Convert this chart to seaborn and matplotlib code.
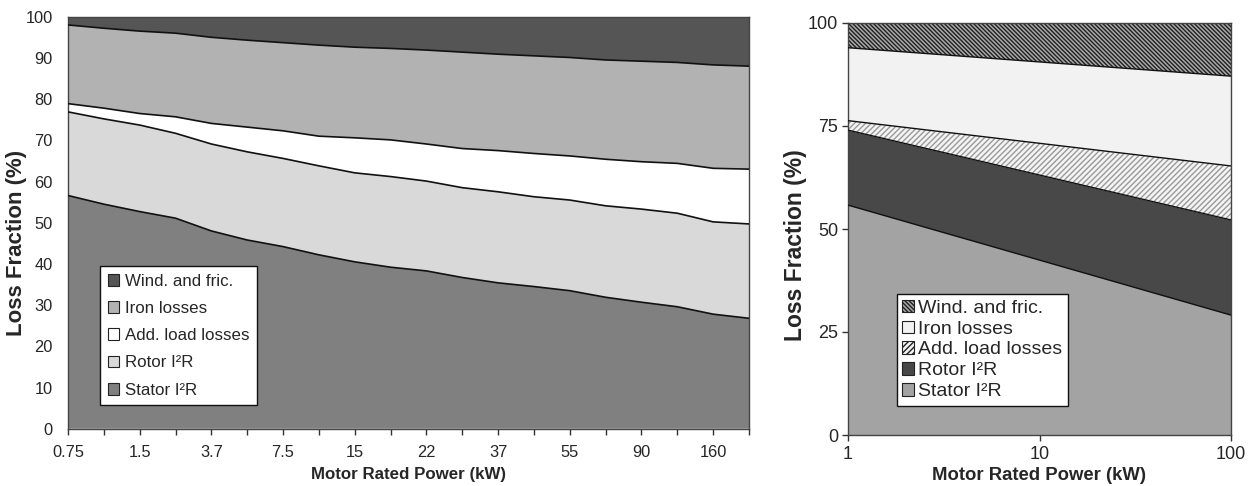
import numpy as np
import pandas as pd
import matplotlib
matplotlib.use("Agg")
import matplotlib.pyplot as plt
import seaborn as sns
from matplotlib.patches import Patch

# ---------------- data ----------------
power_left = ["0.75", "1.1", "1.5", "2.2", "3.7", "5.5", "7.5", "11", "15", "18.5",
              "22", "30", "37", "45", "55", "75", "90", "110", "160", "200"]
stator_left = [56.6, 54.5, 52.7, 51.1, 48.0, 45.8, 44.2, 42.2, 40.5, 39.2,
               38.3, 36.7, 35.4, 34.5, 33.5, 31.9, 30.7, 29.6, 27.8, 26.8]
rotor_left = [20.3, 20.7, 21.0, 20.6, 21.1, 21.4, 21.4, 21.6, 21.6, 22.0,
              21.8, 21.8, 22.1, 21.8, 22.0, 22.2, 22.6, 22.7, 22.4, 22.9]
addload_left = [2.0, 2.6, 2.8, 4.0, 5.0, 6.0, 6.7, 7.2, 8.5, 8.9,
                9.0, 9.5, 10.0, 10.5, 10.7, 11.3, 11.5, 12.1, 13.0, 13.3]
iron_left = [19.1, 19.4, 20.0, 20.3, 20.9, 21.1, 21.4, 22.1, 22.0, 22.2,
             22.8, 23.4, 23.4, 23.7, 23.9, 24.1, 24.4, 24.5, 25.1, 25.0]
wind_left = [2.0, 2.8, 3.5, 4.0, 5.0, 5.7, 6.3, 6.9, 7.4, 7.7,
             8.1, 8.6, 9.1, 9.5, 9.9, 10.5, 10.8, 11.1, 11.7, 12.0]

power_right = [1, 100]
stator_right = [55.8, 29.1]
rotor_right = [18.2, 23.1]
addload_right = [2.3, 13.1]
iron_right = [17.7, 21.8]
wind_right = [6.0, 12.9]

names = ["Stator I²R", "Rotor I²R", "Add. load losses", "Iron losses", "Wind. and fric."]
xlabel = "Motor Rated Power (kW)"
ylabel = "Loss Fraction (%)"

# ---------------- style ----------------
sns.set_theme(style="white")
plt.rcParams["font.family"] = ["Liberation Sans", "DejaVu Sans"]
plt.rcParams["hatch.linewidth"] = 1.0

fig = plt.figure(figsize=(12.55, 4.86), dpi=100)
W, H = 1255, 486
axL = fig.add_axes([68 / W, 1 - 428.7 / H, (749 - 68) / W, (428.7 - 16.7) / H])
axR = fig.add_axes([848 / W, 1 - 435 / H, (1231 - 848) / W, (435 - 23) / H])

# ---------------- left chart ----------------
xpos = np.arange(len(power_left))
comps_left = [stator_left, rotor_left, addload_left, iron_left, wind_left]
cols_left = ["#808080", "#d9d9d9", "#ffffff", "#b2b2b2", "#555555"]
cum = np.zeros(len(xpos))
for vals, c in zip(comps_left, cols_left):
    top = cum + np.array(vals)
    axL.fill_between(xpos, cum, top, facecolor=c, edgecolor="none", zorder=1)
    cum = top
cum = np.zeros(len(xpos))
for vals in comps_left[:-1]:
    cum = cum + np.array(vals)
    df = pd.DataFrame({"x": xpos, "y": cum})
    sns.lineplot(data=df, x="x", y="y", ax=axL, color="#111111", lw=1.2, zorder=3)

axL.set_xlim(0, len(xpos) - 1)
axL.set_ylim(0, 100)
axL.set_xticks(xpos)
axL.set_xticklabels([p if i % 2 == 0 else "" for i, p in enumerate(power_left)])
axL.set_yticks(np.arange(0, 101, 10))
axL.tick_params(axis="x", bottom=True, length=4, width=1, color="#333333",
                labelsize=11.8, pad=8)
axL.tick_params(axis="y", left=False, labelsize=11.8, pad=5)
for s in axL.spines.values():
    s.set_color("#444444")
    s.set_linewidth(1.0)
axL.set_xlabel(xlabel, fontsize=12.2, fontweight="bold", labelpad=5)
axL.set_ylabel(ylabel, fontsize=16, fontweight="bold")
axL.yaxis.set_label_coords(-0.060, 0.45)

handlesL = [Patch(facecolor=c, edgecolor="#222222", lw=0.8, label=n)
            for c, n in zip(cols_left, names)][::-1]
legL = axL.legend(handles=handlesL, loc="lower left", bbox_to_anchor=(0.047, 0.057),
                  frameon=True, fancybox=False, edgecolor="#111111", framealpha=1,
                  fontsize=12.2, handlelength=0.7, handleheight=0.7, handletextpad=0.3,
                  labelspacing=0.72, borderpad=0.45, borderaxespad=0)
legL.get_frame().set_linewidth(1.0)

# ---------------- right chart ----------------
comps_right = [stator_right, rotor_right, addload_right, iron_right, wind_right]
face_right = ["#a3a3a3", "#484848", "#f4f4f4", "#f2f2f2", "#a8a8a8"]
hatch_right = [None, None, "//////", None, "\\\\\\\\\\\\\\\\"]
hcol_right = ["#a3a3a3", "#484848", "#9a9a9a", "#f2f2f2", "#202020"]
xr = np.array(power_right, dtype=float)
cum = np.zeros(len(xr))
for vals, fc, h, hc in zip(comps_right, face_right, hatch_right, hcol_right):
    top = cum + np.array(vals)
    axR.fill_between(xr, cum, top, facecolor=fc, edgecolor=hc, hatch=h, lw=0, zorder=1)
    cum = top
cum = np.zeros(len(xr))
for vals in comps_right[:-1]:
    cum = cum + np.array(vals)
    df = pd.DataFrame({"x": xr, "y": cum})
    sns.lineplot(data=df, x="x", y="y", ax=axR, color="#111111", lw=1.0, zorder=3)

axR.set_xscale("log")
axR.set_xlim(1, 100)
axR.set_ylim(0, 100)
axR.set_xticks([1, 10, 100])
axR.set_xticklabels(["1", "10", "100"])
axR.minorticks_off()
axR.set_yticks([0, 25, 50, 75, 100])
axR.tick_params(axis="x", bottom=True, length=4, width=1, color="#333333",
                labelsize=13, pad=4)
axR.tick_params(axis="y", left=True, length=4, width=1, color="#333333",
                labelsize=13, pad=3)
for s in axR.spines.values():
    s.set_color("#444444")
    s.set_linewidth(1.0)
axR.set_xlabel(xlabel, fontsize=13.3, fontweight="bold", labelpad=3)
axR.set_ylabel(ylabel, fontsize=16.5, fontweight="bold")
axR.yaxis.set_label_coords(-0.108, 0.46)

handlesR = [Patch(facecolor=fc, edgecolor="#222222", hatch=h, lw=0.8, label=n)
            for fc, h, n in zip(face_right, hatch_right, names)][::-1]
legR = axR.legend(handles=handlesR, loc="lower left", bbox_to_anchor=(0.127, 0.07),
                  frameon=True, fancybox=False, edgecolor="#111111", framealpha=1,
                  fontsize=14, handlelength=0.6, handleheight=0.6, handletextpad=0.2,
                  labelspacing=0.2, borderpad=0.3, borderaxespad=0)
legR.get_frame().set_linewidth(1.0)

fig.savefig("out.png", dpi=100, facecolor="white")
